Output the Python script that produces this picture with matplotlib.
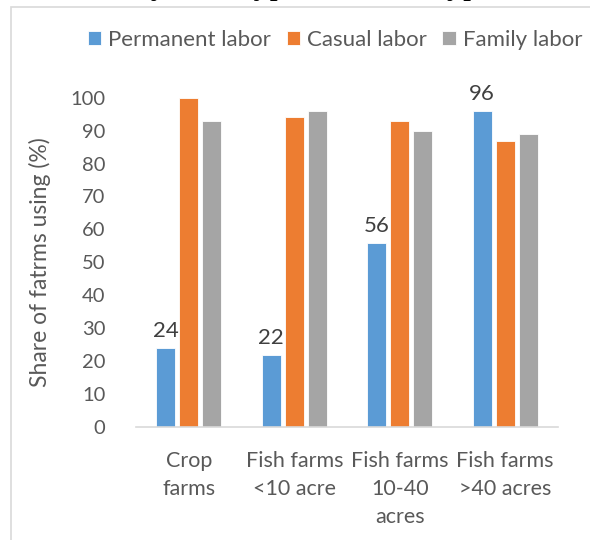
import matplotlib
matplotlib.use("Agg")
import matplotlib.pyplot as plt
from matplotlib.patches import Rectangle
import numpy as np

categories = ["Crop\nfarms", "Fish farms\n<10 acre", "Fish farms\n10-40\nacres", "Fish farms\n>40 acres"]
series_names = ["Permanent labor", "Casual labor", "Family labor"]
permanent = [24, 22, 56, 96]
casual = [100, 94, 93, 87]
family = [93, 96, 90, 89]
colors = ["#5B9BD5", "#ED7D31", "#A5A5A5"]
yticks = [0, 10, 20, 30, 40, 50, 60, 70, 80, 90, 100]
title = "Labor use by farm type and labor type"

FONT = "Lato"
TXT = "#595959"

fig = plt.figure(figsize=(5.9, 5.4), dpi=100)
W, H = 590, 540
ax = fig.add_axes([136 / W, (H - 427) / H, (558 - 136) / W, (427 - 97.7) / H])

x = np.arange(len(categories))
width = 0.18
step = 0.22
data = [permanent, casual, family]
handles = []
for i, (vals, name, c) in enumerate(zip(data, series_names, colors)):
    b = ax.bar(x + (i - 1) * step, vals, width, color=c, edgecolor="white", linewidth=0.6, label=name)
    handles.append(b)

for xi, v in zip(x - step, permanent):
    ax.text(xi, v + 2.0, str(v), ha="center", va="bottom", fontsize=16, color="#404040", family=FONT)

ax.set_xlim(-0.5, len(categories) - 0.5)
ax.set_ylim(0, 100)
ax.set_yticks(yticks)
ax.set_yticklabels([str(t) for t in yticks], fontsize=14.5, color=TXT, family=FONT)
ax.set_xticks(x)
ax.set_xticklabels(categories, fontsize=15.5, color=TXT, family=FONT, linespacing=1.52, va="top")
ax.tick_params(axis="both", length=0)
ax.tick_params(axis="y", pad=22)
ax.tick_params(axis="x", pad=17)
for s in ["top", "right", "left"]:
    ax.spines[s].set_visible(False)
ax.spines["bottom"].set_color("#D9D9D9")
ax.spines["bottom"].set_linewidth(1.2)
ax.set_ylabel("Share of fatrms using (%)", fontsize=16.5, color=TXT, family=FONT)
ax.yaxis.set_label_coords(-(136 - 51) / (558 - 136), 0.5)

leg = fig.legend(handles=handles, labels=series_names, loc="center", bbox_to_anchor=(335 / W, 1 - 40 / H),
                 ncol=3, frameon=False, handlelength=0.62, handleheight=0.62, handletextpad=0.3,
                 columnspacing=0.7, prop={"family": FONT, "size": 16})
for t in leg.get_texts():
    t.set_color(TXT)

# outer chart border
fig.add_artist(Rectangle((11 / W, -0.2), 1.0, 1.2 - 7 / H, transform=fig.transFigure,
                         fill=False, edgecolor="#D9D9D9", linewidth=1.2))

# cut-off document title above the chart: only the descenders show
renderer = fig.canvas.get_renderer()
def text_width(s, size):
    t = fig.text(0, 0, s, fontsize=size, family="Liberation Serif")
    w = t.get_window_extent(renderer).width
    t.remove()
    return w
size = 23.0
i_t1 = title.index("type") + 1
i_t2 = title.rindex("type") + 1
d = text_width(title[:i_t2], size) - text_width(title[:i_t1], size)
size = size * 194.0 / d
x0 = 254.0 - text_width(title[:i_t1], size)
fig.text(x0 / W, 1 + 5.5 / H, title, transform=fig.transFigure,
         ha="left", va="baseline", fontsize=size, family="Liberation Serif", color="black")

fig.savefig("out.png", dpi=100)
